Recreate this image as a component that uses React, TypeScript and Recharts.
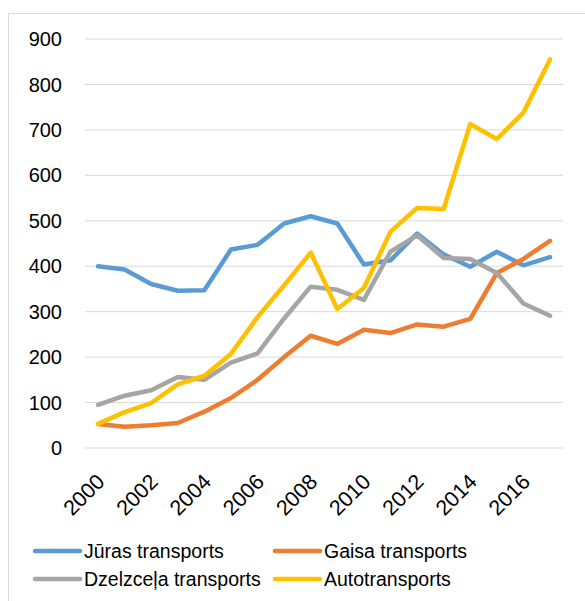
import React from 'react';
import { LineChart, Line, XAxis, YAxis, CartesianGrid, Legend } from 'recharts';

const years = ['2000','2001','2002','2003','2004','2005','2006','2007','2008','2009','2010','2011','2012','2013','2014','2015','2016','2017'];
const juras = [400, 393, 361, 346, 347, 437, 447, 494, 510, 494, 404, 413, 472, 426, 399, 432, 402, 420];
const gaisa = [53, 47, 50, 55, 80, 110, 150, 200, 247, 229, 260, 253, 272, 267, 284, 385, 416, 456];
const dzelzcela = [95, 115, 127, 156, 150, 188, 208, 285, 355, 348, 326, 432, 468, 418, 416, 385, 318, 291];
const auto = [53, 79, 99, 140, 159, 207, 288, 358, 430, 306, 352, 476, 528, 526, 713, 680, 738, 855];
const yTicks = [0, 100, 200, 300, 400, 500, 600, 700, 800, 900];

const seriesInfo = [
  { key: 'juras', name: 'Jūras transports', color: '#5B9BD5' },
  { key: 'gaisa', name: 'Gaisa transports', color: '#ED7D31' },
  { key: 'dzelzcela', name: 'Dzelzceļa transports', color: '#A5A5A5' },
  { key: 'auto', name: 'Autotransports', color: '#FFC000' },
];

const data = years.map((y, i) => ({
  year: y,
  juras: juras[i],
  gaisa: gaisa[i],
  dzelzcela: dzelzcela[i],
  auto: auto[i],
}));

const FONT = '"Liberation Sans", Arial, sans-serif';

const XTick = (props: any) => {
  const { x, y, payload } = props;
  return (
    <g transform={`translate(${x + 8},${y + 35})`}>
      <text x={0} y={0} textAnchor="end" transform="rotate(-45)" fontSize={21.5} fontFamily={FONT} fill="#000">
        {payload.value}
      </text>
    </g>
  );
};

const renderLegend = () => {
  const pos = [
    { left: 23, top: 0 },
    { left: 263, top: 0 },
    { left: 23, top: 28 },
    { left: 263, top: 28 },
  ];
  return (
    <div style={{ position: 'relative', width: 560, height: 56, fontFamily: FONT, fontSize: 19.5, color: '#000' }}>
      {seriesInfo.map((s, i) => (
        <div key={s.key} style={{ position: 'absolute', left: pos[i].left, top: pos[i].top, height: 28, display: 'flex', alignItems: 'center', whiteSpace: 'nowrap' }}>
          <svg width={52} height={10} style={{ display: 'block' }}>
            <line x1={3} y1={5} x2={48} y2={5} stroke={s.color} strokeWidth={4.5} strokeLinecap="round" />
          </svg>
          <span style={{ marginLeft: 0 }}>{s.name}</span>
        </div>
      ))}
    </div>
  );
};

export default function App() {
  return (
    <div style={{ position: 'fixed', left: 8, top: 13, width: 590, height: 600, borderTop: '1px solid #d9d9d9', borderLeft: '1px solid #d9d9d9', overflow: 'hidden', background: '#fff' }}>
      <LineChart width={576} height={588} data={data} margin={{ top: 25, right: 22, bottom: 94, left: 0 }}>
        <CartesianGrid vertical={false} stroke="#d9d9d9" strokeWidth={1} />
        <XAxis
          dataKey="year"
          interval={1}
          axisLine={false}
          tickLine={false}
          tickSize={0}
          tickMargin={0}
          height={60}
          padding={{ left: 13, right: 13 }}
          tick={<XTick />}
        />
        <YAxis
          width={76}
          domain={[0, 900]}
          ticks={yTicks}
          axisLine={false}
          tickLine={false}
          tickSize={0}
          tickMargin={23}
          tick={{ fontSize: 20, fontFamily: FONT, fill: '#000' }}
        />
        {seriesInfo.map((s) => (
          <Line
            key={s.key}
            type="linear"
            dataKey={s.key}
            name={s.name}
            stroke={s.color}
            strokeWidth={4.5}
            strokeLinecap="round"
            strokeLinejoin="round"
            dot={false}
            activeDot={false}
            isAnimationActive={false}
          />
        ))}
        <Legend
          layout="horizontal"
          verticalAlign="middle"
          content={renderLegend}
          wrapperStyle={{ position: 'absolute', top: 523, left: 0, width: 560 }}
        />
      </LineChart>
    </div>
  );
}
